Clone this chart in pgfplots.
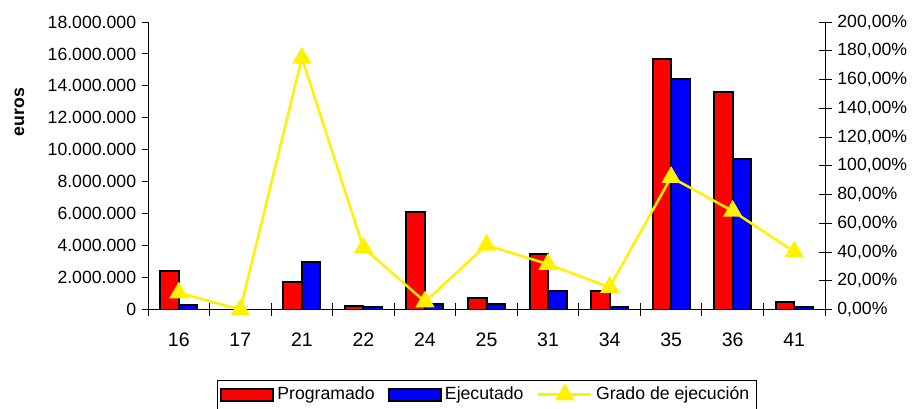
\documentclass[border=0pt]{standalone}
\usepackage{fontspec}
\setmainfont{Liberation Sans}
\usepackage{pgfplots}
\usepackage{pgfplotstable}
\pgfplotsset{compat=1.18}
\pgfplotsset{
    /pgf/number format/assume math mode=true,
    barleg/.style={legend image code/.code={\draw[##1] (0pt,-3.6pt) rectangle (31pt,3.6pt);}},
    lineleg/.style={legend image code/.code={%
        \draw[##1, sharp plot, mark=none] (0pt,0pt) -- (32pt,0pt);
        \draw[##1, sharp plot] plot coordinates {(16pt,0pt)};}},
}

% x: posicion de la categoria, prog/ejec en euros, grado en %
\pgfplotstableread{
x prog ejec grado
0 2410000 280000 11.6
1 0 0 0
2 1720000 3000000 175
3 240000 140000 43
4 6080000 340000 5.4
5 740000 330000 44.8
6 3500000 1180000 31.5
7 1160000 180000 15.5
8 15700000 14430000 92
9 13640000 9420000 68.5
10 450000 180000 40.2
}\datos

\begin{document}
\begin{tikzpicture}[font=\fontsize{10.6}{12.7}\selectfont]
\begin{axis}[
    name=main,
    scale only axis, width=406.2pt, height=172.5pt,
    xmin=-0.5, xmax=10.5, ymin=0, ymax=18000000,
    ybar=0pt, bar width=0.3,
    axis x line*=bottom, axis y line*=left,
    axis line style={-, black},
    tick align=outside,
    major tick length=3.6pt,
    tick style={black, line width=0.6pt},
    xtick={0,...,10},
    xticklabels={16,17,21,22,24,25,31,34,35,36,41},
    major x tick style={draw=none},
    xticklabel style={font=\fontsize{11.7}{14}\selectfont, yshift=-7pt},
    ytick={0,2000000,...,18000000},
    scaled y ticks=false,
    yticklabel style={/pgf/number format/.cd, fixed, 1000 sep={.}},
    ylabel={euros},
    ylabel style={font=\fontsize{10.6}{12.7}\selectfont\bfseries, at={(axis description cs:-0.19,0.687)}, anchor=center},
    legend style={at={(0.5,-0.245)}, anchor=north, legend columns=3, draw=black,
        inner sep=2pt, /tikz/every even column/.append style={column sep=6pt}},
]
\addplot[fill=red, draw=black, line width=1.2pt, barleg]
    table[x=x, y=prog]{\datos};
\addplot[fill=blue, draw=black, line width=1.2pt, barleg]
    table[x=x, y=ejec]{\datos};
\addlegendimage{yellow, line width=1.5pt, mark=triangle*, mark size=5.2pt, lineleg}
\legend{Programado, Ejecutado, Grado de ejecución}
\end{axis}

\begin{axis}[
    scale only axis, width=406.2pt, height=172.5pt,
    xmin=-0.5, xmax=10.5, ymin=0, ymax=200,
    axis y line*=right, axis x line*=bottom,
    axis line style={-, black},
    x axis line style={draw=none},
    tick align=center,
    major tick length=7.8pt,
    tick style={black, line width=0.6pt},
    xtick={-0.5,0.5,...,10.5},
    xticklabel=\empty,
    ytick={0,20,...,200},
    yticklabel={\pgfmathprintnumber[fixed, fixed zerofill, precision=2, use comma]{\tick}\%},
]
\addplot[yellow, line width=1.5pt, mark=triangle*, mark size=5.2pt]
    table[x=x, y=grado]{\datos};
\end{axis}

\pgfresetboundingbox
\path (main.south west) ++(-88.8pt,-59.1pt) rectangle ++(547.8pt,244.8pt);
\end{tikzpicture}
\end{document}
